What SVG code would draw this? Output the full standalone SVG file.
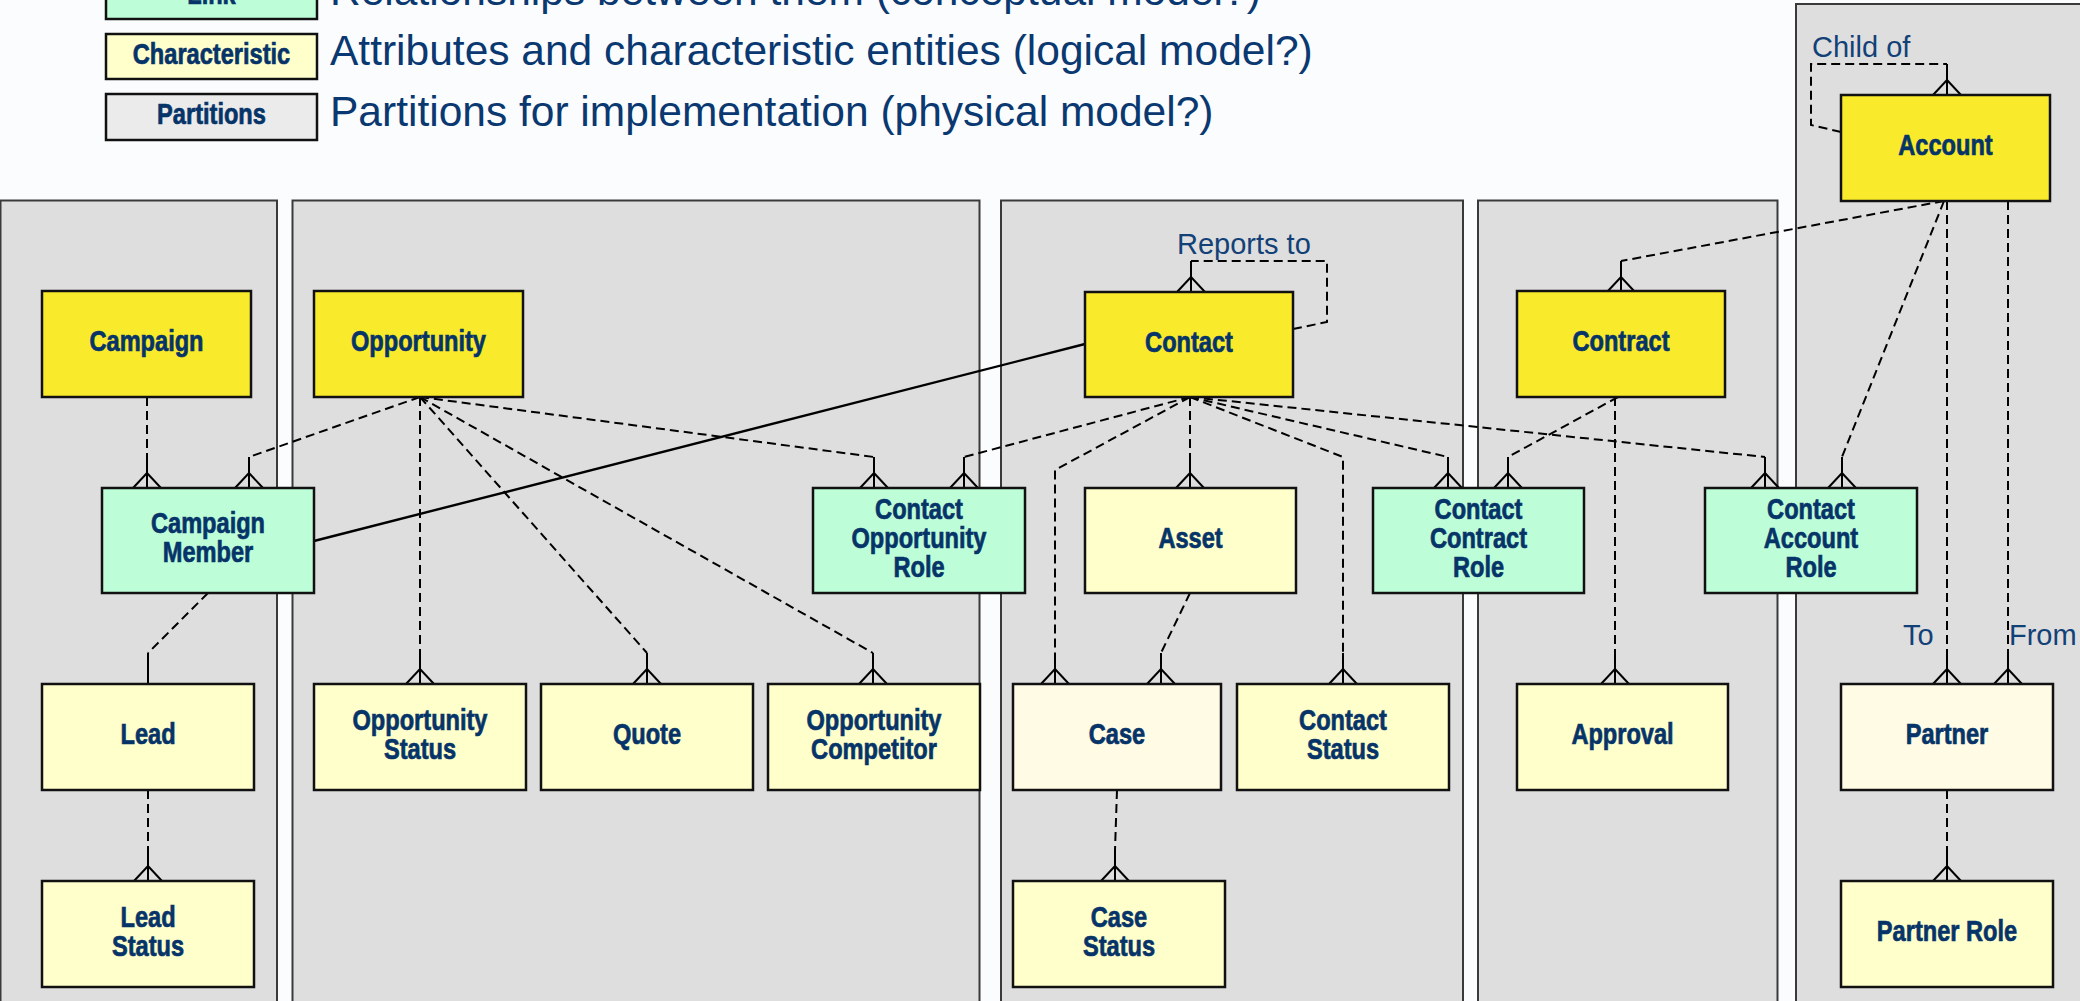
<svg xmlns="http://www.w3.org/2000/svg" xmlns:xlink="http://www.w3.org/1999/xlink" width="2080" height="1001" viewBox="0 0 2080 1001">
  <style>
    .part { fill: #dedede; stroke: #3a3a3a; stroke-width: 2; }
    .box { stroke: #111; stroke-width: 2.5; }
    .core { fill: #f9eb2c; }
    .link { fill: #bdfed9; }
    .char { fill: #ffffcc; }
    .pale { fill: #fffbe4; }
    .legpart { fill: #ebebeb; }
    .lbl { font-family: "Liberation Sans", Arial, sans-serif; font-weight: bold; font-size: 29.5px; fill: #063468; stroke: #063468; stroke-width: 0.7; text-anchor: middle; }
    .note { font-family: "Liberation Sans", Arial, sans-serif; font-size: 29px; fill: #124177; }
    .legend { font-family: "Liberation Sans", Arial, sans-serif; font-size: 42.5px; fill: #0a3870; }
    .dash { fill: none; stroke: #000; stroke-width: 2; stroke-dasharray: 9 5; }
    .solid { fill: none; stroke: #000; stroke-width: 2.4; }
    .foot { fill: none; stroke: #000; stroke-width: 2; }
  </style>
  <defs>
    <!-- crow's foot, origin at the box edge it touches -->
    <path id="crow" class="foot" d="M0,-31 V0 M-14,0 L0,-15 L14,0"/>
    <path id="stem" class="foot" d="M0,-31 V0"/>
  </defs>

  <rect x="0" y="0" width="2080" height="1001" fill="#fbfcfe"/>

  <!-- legend; entity labels are condensed horizontally around their centre -->
  <g id="legend">
    <rect class="box link" x="106" y="-26" width="211" height="45"/>
    <text class="lbl" transform="matrix(0.8 0 0 1 211.5 0)" x="0" y="4">Link</text>
    <text class="legend" x="330" y="5">Relationships between them (conceptual model?)</text>
    <rect class="box char" x="106" y="34" width="211" height="45"/>
    <text class="lbl" transform="matrix(0.8 0 0 1 211.5 0)" x="0" y="64">Characteristic</text>
    <text class="legend" x="330" y="65">Attributes and characteristic entities (logical model?)</text>
    <rect class="box legpart" x="106" y="94" width="211" height="46"/>
    <text class="lbl" transform="matrix(0.8 0 0 1 211.5 0)" x="0" y="124.5">Partitions</text>
    <text class="legend" x="330" y="126">Partitions for implementation (physical model?)</text>
  </g>

  <!-- partitions -->
  <g id="partitions">
    <rect class="part" x="0.5" y="200.5" width="276.5" height="820"/>
    <rect class="part" x="292.5" y="200.5" width="687" height="820"/>
    <rect class="part" x="1001" y="200.5" width="462" height="820"/>
    <rect class="part" x="1478" y="200.5" width="299.5" height="820"/>
    <rect class="part" x="1796" y="4" width="300" height="1020"/>
  </g>

  <!-- relationships -->
  <g id="connectors">
    <path class="dash" d="M147,397 V457"/>
    <path class="dash" d="M420,397 L249,457"/>
    <path class="dash" d="M208,593 L148,653"/>
    <path class="dash" d="M148,790 V850"/>
    <path class="dash" d="M420,397 V653"/>
    <path class="dash" d="M420,397 L647,653"/>
    <path class="dash" d="M420,397 L873,653"/>
    <path class="dash" d="M420,397 L874,457"/>
    <path class="dash" d="M1190,397 L964,457"/>
    <path class="dash" d="M1190,397 L1055,470 V653"/>
    <path class="dash" d="M1190,397 V457"/>
    <path class="dash" d="M1190,593 L1161,653"/>
    <path class="dash" d="M1190,397 L1343,457 V653"/>
    <path class="dash" d="M1190,397 L1448,457"/>
    <path class="dash" d="M1190,397 L1765,457"/>
    <path class="dash" d="M1618,397 L1508,457"/>
    <path class="dash" d="M1615,397 V653"/>
    <path class="dash" d="M1944,201 L1621,261"/>
    <path class="dash" d="M1944,201 L1842,457"/>
    <path class="dash" d="M1947,201 V653"/>
    <path class="dash" d="M2008,201 V653"/>
    <path class="dash" d="M1947,790 V850"/>
    <path class="dash" d="M1117,790 L1115,850"/>
    <path class="dash" d="M1293,329 L1327,322 V261 H1191"/>
    <path class="dash" d="M1841,132 L1811,125 V64 H1947"/>
    <path class="solid" d="M314,541 L1085,344"/>

    <use xlink:href="#crow" x="147" y="488"/>
    <use xlink:href="#crow" x="249" y="488"/>
    <use xlink:href="#stem" x="148" y="684"/>
    <use xlink:href="#crow" x="148" y="881"/>
    <use xlink:href="#crow" x="420" y="684"/>
    <use xlink:href="#crow" x="647" y="684"/>
    <use xlink:href="#crow" x="873" y="684"/>
    <use xlink:href="#crow" x="874" y="488"/>
    <use xlink:href="#crow" x="964" y="488"/>
    <use xlink:href="#crow" x="1055" y="684"/>
    <use xlink:href="#crow" x="1190" y="488"/>
    <use xlink:href="#crow" x="1161" y="684"/>
    <use xlink:href="#crow" x="1343" y="684"/>
    <use xlink:href="#crow" x="1448" y="488"/>
    <use xlink:href="#crow" x="1765" y="488"/>
    <use xlink:href="#crow" x="1508" y="488"/>
    <use xlink:href="#crow" x="1615" y="684"/>
    <use xlink:href="#crow" x="1621" y="292"/>
    <use xlink:href="#crow" x="1842" y="488"/>
    <use xlink:href="#crow" x="1947" y="684"/>
    <use xlink:href="#crow" x="2008" y="684"/>
    <use xlink:href="#crow" x="1947" y="881"/>
    <use xlink:href="#crow" x="1115" y="881"/>
    <use xlink:href="#crow" x="1191" y="292"/>
    <use xlink:href="#crow" x="1947" y="95"/>

    <text class="note" x="1177" y="254">Reports to</text>
    <text class="note" x="1812" y="57">Child of</text>
    <text class="note" x="1903" y="645">To</text>
    <text class="note" x="2009" y="645">From</text>
  </g>

  <!-- entities -->
  <g id="campaign"><rect class="box core" x="42" y="291" width="209" height="106"/><text class="lbl" transform="matrix(0.8 0 0 1 146.5 0)" x="0" y="351.5">Campaign</text></g>
  <g id="opportunity"><rect class="box core" x="314" y="291" width="209" height="106"/><text class="lbl" transform="matrix(0.8 0 0 1 418.5 0)" x="0" y="351.5">Opportunity</text></g>
  <g id="contact"><rect class="box core" x="1085" y="292" width="208" height="105"/><text class="lbl" transform="matrix(0.8 0 0 1 1189 0)" x="0" y="352">Contact</text></g>
  <g id="contract"><rect class="box core" x="1517" y="291" width="208" height="106"/><text class="lbl" transform="matrix(0.8 0 0 1 1621 0)" x="0" y="351.5">Contract</text></g>
  <g id="account"><rect class="box core" x="1841" y="95" width="209" height="106"/><text class="lbl" transform="matrix(0.8 0 0 1 1945.5 0)" x="0" y="155.5">Account</text></g>

  <g id="campaign-member"><rect class="box link" x="102" y="488" width="212" height="105"/><text class="lbl" transform="matrix(0.8 0 0 1 208 0)" x="0" y="533.5">Campaign<tspan x="0" dy="29">Member</tspan></text></g>
  <g id="contact-opportunity-role"><rect class="box link" x="813" y="488" width="212" height="105"/><text class="lbl" transform="matrix(0.8 0 0 1 919 0)" x="0" y="519.5">Contact<tspan x="0" dy="29">Opportunity</tspan><tspan x="0" dy="29">Role</tspan></text></g>
  <g id="asset"><rect class="box char" x="1085" y="488" width="211" height="105"/><text class="lbl" transform="matrix(0.8 0 0 1 1190.5 0)" x="0" y="548">Asset</text></g>
  <g id="contact-contract-role"><rect class="box link" x="1373" y="488" width="211" height="105"/><text class="lbl" transform="matrix(0.8 0 0 1 1478.5 0)" x="0" y="519.5">Contact<tspan x="0" dy="29">Contract</tspan><tspan x="0" dy="29">Role</tspan></text></g>
  <g id="contact-account-role"><rect class="box link" x="1705" y="488" width="212" height="105"/><text class="lbl" transform="matrix(0.8 0 0 1 1811 0)" x="0" y="519.5">Contact<tspan x="0" dy="29">Account</tspan><tspan x="0" dy="29">Role</tspan></text></g>

  <g id="lead"><rect class="box char" x="42" y="684" width="212" height="106"/><text class="lbl" transform="matrix(0.8 0 0 1 148 0)" x="0" y="744.5">Lead</text></g>
  <g id="opportunity-status"><rect class="box char" x="314" y="684" width="212" height="106"/><text class="lbl" transform="matrix(0.8 0 0 1 420 0)" x="0" y="730">Opportunity<tspan x="0" dy="29">Status</tspan></text></g>
  <g id="quote"><rect class="box char" x="541" y="684" width="212" height="106"/><text class="lbl" transform="matrix(0.8 0 0 1 647 0)" x="0" y="744.5">Quote</text></g>
  <g id="opportunity-competitor"><rect class="box char" x="768" y="684" width="212" height="106"/><text class="lbl" transform="matrix(0.8 0 0 1 874 0)" x="0" y="730">Opportunity<tspan x="0" dy="29">Competitor</tspan></text></g>
  <g id="case"><rect class="box pale" x="1013" y="684" width="208" height="106"/><text class="lbl" transform="matrix(0.8 0 0 1 1117 0)" x="0" y="744.5">Case</text></g>
  <g id="contact-status"><rect class="box char" x="1237" y="684" width="212" height="106"/><text class="lbl" transform="matrix(0.8 0 0 1 1343 0)" x="0" y="730">Contact<tspan x="0" dy="29">Status</tspan></text></g>
  <g id="approval"><rect class="box char" x="1517" y="684" width="211" height="106"/><text class="lbl" transform="matrix(0.8 0 0 1 1622.5 0)" x="0" y="744.5">Approval</text></g>
  <g id="partner"><rect class="box pale" x="1841" y="684" width="212" height="106"/><text class="lbl" transform="matrix(0.8 0 0 1 1947 0)" x="0" y="744.5">Partner</text></g>

  <g id="lead-status"><rect class="box char" x="42" y="881" width="212" height="106"/><text class="lbl" transform="matrix(0.8 0 0 1 148 0)" x="0" y="927">Lead<tspan x="0" dy="29">Status</tspan></text></g>
  <g id="case-status"><rect class="box char" x="1013" y="881" width="212" height="106"/><text class="lbl" transform="matrix(0.8 0 0 1 1119 0)" x="0" y="927">Case<tspan x="0" dy="29">Status</tspan></text></g>
  <g id="partner-role"><rect class="box char" x="1841" y="881" width="212" height="106"/><text class="lbl" transform="matrix(0.8 0 0 1 1947 0)" x="0" y="941.5">Partner Role</text></g>
</svg>
